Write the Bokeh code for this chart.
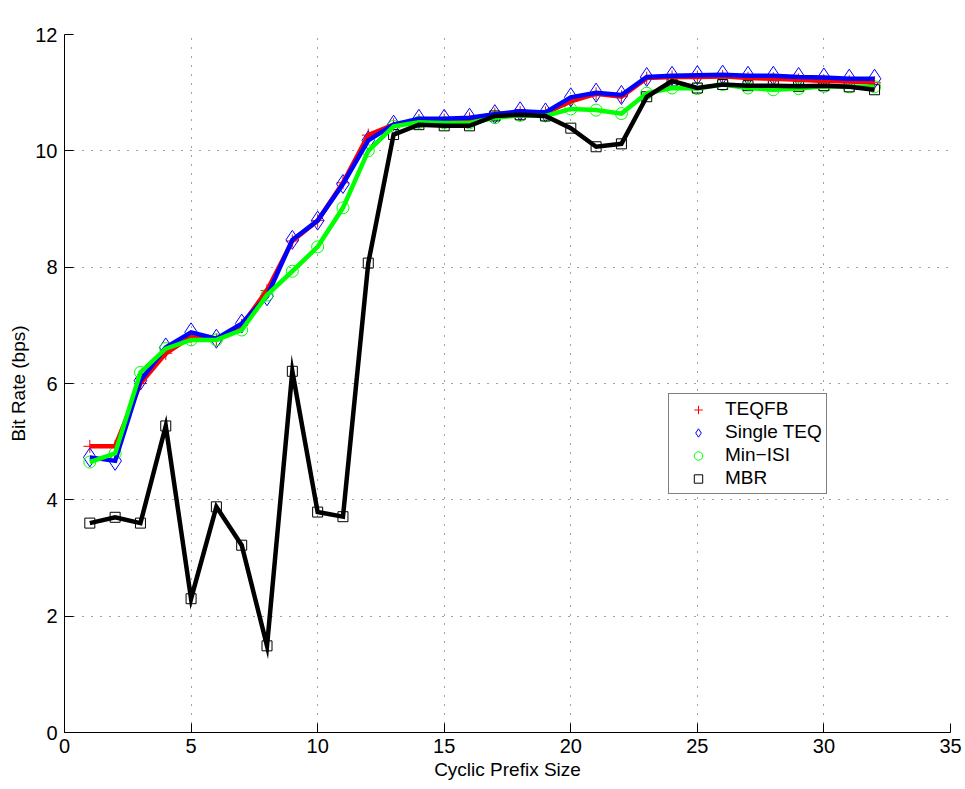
from bokeh.plotting import figure
from bokeh.models import FixedTicker, Legend, LegendItem, Label
from bokeh.embed import file_html
from bokeh.resources import INLINE

# Cyclic prefix sizes and achieved bit rates (units of 10^6 bps)
cp_size = list(range(1, 33))

teqfb = [4.92, 4.92, 6.00, 6.52, 6.80, 6.75, 7.00, 7.60, 8.45, 8.80, 9.45, 10.27,
         10.45, 10.52, 10.53, 10.55, 10.63, 10.66, 10.65, 10.85, 10.98, 10.93,
         11.25, 11.27, 11.27, 11.28, 11.25, 11.24, 11.22, 11.20, 11.19, 11.17]

single_teq = [4.73, 4.67, 6.05, 6.62, 6.88, 6.77, 7.03, 7.50, 8.47, 8.80, 9.43, 10.18,
              10.45, 10.55, 10.55, 10.57, 10.63, 10.68, 10.66, 10.92, 11.00, 10.96,
              11.27, 11.29, 11.30, 11.31, 11.29, 11.29, 11.27, 11.26, 11.24, 11.24]

min_isi = [4.65, 4.80, 6.19, 6.60, 6.75, 6.75, 6.92, 7.52, 7.93, 8.35, 9.02, 10.00,
           10.42, 10.49, 10.48, 10.48, 10.57, 10.61, 10.60, 10.72, 10.70, 10.64,
           10.99, 11.08, 11.07, 11.14, 11.08, 11.05, 11.07, 11.11, 11.10, 11.10]

mbr = [3.60, 3.70, 3.60, 5.27, 2.30, 3.88, 3.22, 1.49, 6.21, 3.79, 3.71, 8.07,
       10.28, 10.45, 10.43, 10.43, 10.60, 10.62, 10.60, 10.39, 10.07, 10.12,
       10.93, 11.20, 11.08, 11.14, 11.12, 11.12, 11.11, 11.12, 11.10, 11.05]

series_names = ["TEQFB", "Single TEQ", "Min\u2212ISI", "MBR"]
x_ticks = [0, 5, 10, 15, 20, 25, 30, 35]
y_ticks = [0, 2, 4, 6, 8, 10, 12]

FONT = "Liberation Sans"

p = figure(width=965, height=789, x_range=(0, 35), y_range=(0, 12),
           output_backend="svg", toolbar_location=None,
           min_border_left=64, min_border_right=15, min_border_top=34, min_border_bottom=57)
p.outline_line_color = None
p.background_fill_color = "white"
p.border_fill_color = "white"

for ax, ticks in ((p.xaxis, x_ticks), (p.yaxis, y_ticks)):
    ax.ticker = FixedTicker(ticks=ticks)
    ax.major_tick_in = 9
    ax.major_tick_out = 0
    ax.minor_tick_line_color = None
    ax.axis_line_color = "black"
    ax.axis_line_width = 1
    ax.major_tick_line_color = "black"
    ax.major_label_text_font = FONT
    ax.major_label_text_font_size = "20px"
    ax.major_label_text_color = "black"
    ax.axis_label_text_font = FONT
    ax.axis_label_text_font_size = "19px"
    ax.axis_label_text_font_style = "normal"
    ax.axis_label_text_color = "black"

p.xaxis.axis_label = "Cyclic Prefix Size"
p.yaxis.axis_label = "Bit Rate (bps)"
p.xaxis.major_label_standoff = 6
p.xaxis.axis_label_standoff = 3
p.yaxis.major_label_standoff = 7
p.yaxis.axis_label_standoff = 3

for g in (p.xgrid, p.ygrid):
    g.grid_line_color = "#444444"
    g.grid_line_dash = "1 8"
    g.grid_line_width = 1
p.xgrid.ticker = FixedTicker(ticks=x_ticks)
p.ygrid.ticker = FixedTicker(ticks=y_ticks)

# markers first, thick lines drawn over them
m_teqfb = p.scatter(cp_size, teqfb, marker="cross", size=13, line_color="red", line_width=1)
m_single = p.scatter(cp_size, single_teq, marker="diamond", size=19, line_color="blue",
                     fill_color=None, line_width=1)
m_minisi = p.scatter(cp_size, min_isi, marker="circle", size=12, line_color="#00ff00",
                     fill_color=None, line_width=1)
m_mbr = p.scatter(cp_size, mbr, marker="square", size=10, line_color="black",
                  fill_color=None, line_width=1)

for ys, col in ((teqfb, "red"), (single_teq, "blue"), (min_isi, "#00ff00"), (mbr, "black")):
    p.line(cp_size, ys, line_color=col, line_width=4.5, line_join="miter")

legend = Legend(items=[LegendItem(label=n, renderers=[r]) for n, r in
                       zip(series_names, (m_teqfb, m_single, m_minisi, m_mbr))],
                location=(604, 238))
legend.border_line_color = "black"
legend.border_line_width = 1
legend.background_fill_color = "white"
legend.background_fill_alpha = 1
legend.padding = 4
legend.margin = 0
legend.spacing = 1
legend.glyph_width = 50
legend.glyph_height = 21
legend.label_height = 21
legend.label_standoff = 2
legend.label_text_font = FONT
legend.label_text_font_size = "19px"
legend.label_text_color = "black"
p.add_layout(legend, "center")

# axis exponent note
p.add_layout(Label(x=0, y=12, x_offset=1, y_offset=8, text="x 10",
                   text_font=FONT, text_font_size="15px", text_color="black",
                   text_baseline="alphabetic"))
p.add_layout(Label(x=0, y=12, x_offset=30, y_offset=21, text="6",
                   text_font=FONT, text_font_size="11px", text_color="black",
                   text_baseline="alphabetic"))

open("out.html", "w").write(file_html(p, INLINE))
